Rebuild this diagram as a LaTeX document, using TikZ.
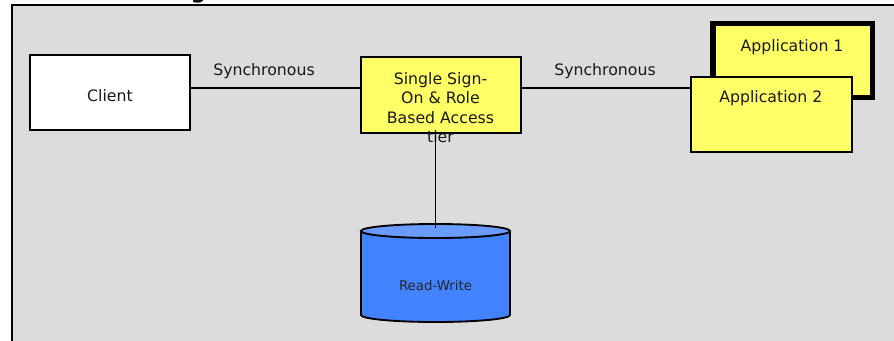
\documentclass[tikz,border=0pt]{standalone}
\usepackage{fontspec}
\setmainfont{DejaVu Sans}
\definecolor{bggray}{HTML}{DCDCDC}
\definecolor{boxyellow}{HTML}{FFFF66}
\definecolor{dbblue}{HTML}{4282FF}
\definecolor{dbtopblue}{HTML}{6A9CFF}
\begin{document}
\begin{tikzpicture}[x=0.75pt,y=0.75pt,
  box/.style={draw=black, line width=1.4pt, inner sep=0pt},
  txt/.style={font=\fontsize{11.8}{14.6}\selectfont, align=center, inner sep=0pt, text=black!90},
  conn/.style={draw=black, line width=1.25pt}]
\useasboundingbox (0,0) rectangle (894,-340);
% frame
\node[font=\bfseries\fontsize{16}{18}\selectfont, inner sep=0pt, anchor=base] (title) at (198.5,2) {g};
\draw[fill=bggray, line width=1.5pt] (12,-5) rectangle (910,-360);
% horizontal reference level
\coordinate (hlev) at (0,-88);
% client
\node[box, fill=white, minimum width=120pt, minimum height=56.25pt] (client) at (110,-92.5) {};
\node[txt] (clienttxt) at (110,-95.5) {Client};
% sso
\node[box, fill=boxyellow, minimum width=120.2pt, minimum height=56.5pt] (sso) at (440.9,-95) {};
% applications
\node[box, fill=boxyellow, line width=4.1pt, minimum width=119.6pt, minimum height=55.4pt] (app1) at (792.5,-60.3) {};
\node[txt] (app1txt) at (792,-46.7) {Application 1};
\node[box, fill=boxyellow, minimum width=120.7pt, minimum height=56.7pt] (app2) at (771.2,-114.5) {};
\node[txt] (app2txt) at (770.8,-98.3) {Application 2};
% connectors
\draw[conn] (client.east |- hlev) -- (sso.west |- hlev);
\draw[conn] (sso.east |- hlev) -- (app2.west |- hlev);
\node[txt] (sync1) at (264,-71) {Synchronous};
\node[txt] (sync2) at (605,-71) {Synchronous};
% database
\fill[dbblue] (361,-231) -- (361,-315) arc[start angle=180,end angle=360,x radius=55.875pt,y radius=5.25pt] -- (510,-231) -- cycle;
\draw[line width=1.4pt] (361,-231) -- (361,-315) arc[start angle=180,end angle=360,x radius=55.875pt,y radius=5.25pt] -- (510,-231);
\draw[fill=dbtopblue, line width=1.4pt] (435.5,-231) ellipse [x radius=55.875pt, y radius=5.25pt];
\coordinate (dbtop) at (435.5,-228);
\node[inner sep=0pt, font=\fontsize{10}{12}\selectfont, text=black!85] (dbtxt) at (435.5,-286) {Read-Write};
% sso text
\node[txt] (ssotxt) at (440.5,-107.5) {Single Sign-\\On \& Role\\Based Access\\tier};
\draw[conn] (sso.south -| dbtop) -- (dbtop);
\end{tikzpicture}
\end{document}
